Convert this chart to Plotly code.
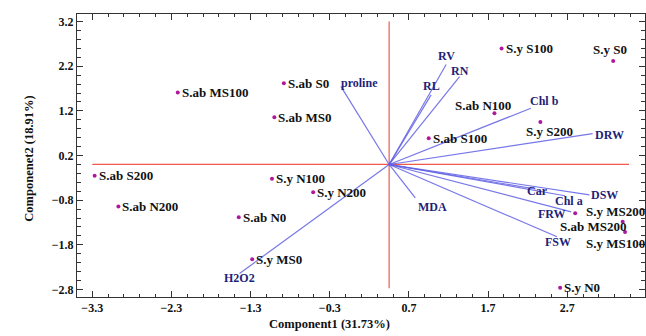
import plotly.graph_objects as go

# ---- data: sample scores (component 1, component 2) ----
sample_names = ["S.ab S0", "S.ab MS100", "S.ab MS0", "S.ab S200", "S.y N100", "S.y N200",
                "S.ab N200", "S.ab N0", "S.y MS0", "S.y S100", "S.y S0", "S.ab N100",
                "S.y S200", "S.ab S100", "S.y MS200", "S.ab MS200", "S.y MS100", "S.y N0"]
sample_pc1 = [-0.88, -2.22, -1.00, -3.27, -1.03, -0.51, -2.97, -1.45, -1.28, 1.87, 3.28, 1.78,
              2.36, 0.95, 2.80, 3.40, 3.43, 2.61]
sample_pc2 = [1.82, 1.61, 1.06, -0.25, -0.32, -0.62, -0.94, -1.18, -2.12, 2.60, 2.32, 1.15,
              0.95, 0.59, -1.09, -1.28, -1.51, -2.76]

# ---- data: variable loadings (end points of the biplot vectors) ----
var_names = ["proline", "RL", "RV", "RN", "Chl b", "DRW", "Car", "Chl a", "DSW", "FRW", "FSW", "MDA", "H2O2"]
var_pc1 = [-0.16, 0.98, 1.17, 1.34, 2.24, 3.02, 2.30, 2.67, 2.98, 2.75, 2.57, 0.78, -1.44]
var_pc2 = [1.75, 1.56, 2.24, 1.97, 1.26, 0.69, -0.55, -0.70, -0.68, -1.06, -1.62, -0.75, -2.44]
origin = (0.45, 0.0)

# reference cross lines
hline_x = [-3.3, 3.48]
vline_y = [-2.77, 3.2]

# tick labels
x_ticks = [-3.3, -2.3, -1.3, -0.3, 0.7, 1.7, 2.7]
y_ticks = [-2.8, -1.8, -0.8, 0.2, 1.2, 2.2, 3.2]

SERIF = "Liberation Serif"
RED = "#ef5a4a"
VEC = "rgba(95,95,228,0.85)"
NAVY = "#1f1f78"
DOT = "#b0189c"

fig = go.Figure()

# cross lines
fig.add_trace(go.Scatter(x=hline_x, y=[origin[1]] * 2, mode="lines",
                         line=dict(color=RED, width=1.2), hoverinfo="skip", showlegend=False))
fig.add_trace(go.Scatter(x=[origin[0]] * 2, y=vline_y, mode="lines",
                         line=dict(color=RED, width=1.2), hoverinfo="skip", showlegend=False))

# vectors
vx, vy = [], []
for ex, ey in zip(var_pc1, var_pc2):
    vx += [origin[0], ex, None]
    vy += [origin[1], ey, None]
fig.add_trace(go.Scatter(x=vx, y=vy, mode="lines", line=dict(color=VEC, width=1.2),
                         hoverinfo="skip", showlegend=False))

# sample points
fig.add_trace(go.Scatter(x=sample_pc1, y=sample_pc2, mode="markers",
                         marker=dict(color=DOT, size=4), showlegend=False))

# label placement (pixel shifts) — style only
samp_shift = {
    "S.y S0": ("center", -3, 11),
    "S.y S200": ("center", 9, -9),
    "S.ab N100": ("center", -11, 8),
    "S.ab MS200": ("left", -65, -5),
    "S.y MS100": ("left", -41, -12),
    "S.y MS200": ("left", 9, 2),
}
for n, x, y in zip(sample_names, sample_pc1, sample_pc2):
    anc, dx, dy = samp_shift.get(n, ("left", 2, 0))
    fig.add_annotation(x=x, y=y, text=n, showarrow=False, xanchor=anc, yanchor="middle",
                       xshift=dx, yshift=dy,
                       font=dict(family=SERIF, size=13, color="#111", weight="bold"))

var_shift = {
    "proline": ("left", -2, 3),
    "RV": ("center", 0, 8),
    "RN": ("center", 0, 6),
    "RL": ("center", 0, 9),
    "Chl b": ("left", -3, 7),
    "DRW": ("left", 0, -1),
    "Car": ("center", 2, -2),
    "Chl a": ("center", 4, -5),
    "DSW": ("left", 0, 0),
    "FRW": ("center", -19, -2),
    "FSW": ("center", 1, -5),
    "MDA": ("center", 17, -9),
    "H2O2": ("center", 0, -5),
}
for n, x, y in zip(var_names, var_pc1, var_pc2):
    anc, dx, dy = var_shift[n]
    fig.add_annotation(x=x, y=y, text=n, showarrow=False, xanchor=anc, yanchor="middle",
                       xshift=dx, yshift=dy,
                       font=dict(family=SERIF, size=12, color=NAVY, weight="bold"))

# axis titles
fig.add_annotation(x=-0.3, y=0, xref="x", yref="paper", yshift=-27, yanchor="middle",
                   text="Component1 (31.73%)", showarrow=False,
                   font=dict(family=SERIF, size=12.5, color="#111", weight="bold"))
fig.add_annotation(x=0, y=0.13, xref="paper", yref="y", xshift=-57, textangle=-90,
                   text="Componenet2 (18.91%)", showarrow=False,
                   font=dict(family=SERIF, size=12.5, color="#111", weight="bold"))

axis_common = dict(showgrid=False, zeroline=False, showline=True, linecolor="#333",
                   linewidth=1, mirror="ticks", ticks="inside", ticklen=6,
                   tickcolor="#333", tickwidth=1, tickformat=".1f", automargin=False,
                   tickfont=dict(family=SERIF, size=12, color="#111", weight="bold"))
fig.update_xaxes(range=[-3.493, 3.682], tickvals=x_ticks,
                 minor=dict(dtick=0.2, tick0=-3.3, ticks="inside", ticklen=3, tickcolor="#333"),
                 **axis_common)
fig.update_yaxes(range=[-2.968, 3.37], tickvals=y_ticks,
                 minor=dict(dtick=0.2, tick0=0.2, ticks="inside", ticklen=4, tickcolor="#333"),
                 **axis_common)

fig.update_layout(width=646, height=336, margin=dict(l=77, r=1, t=14, b=39),
                  paper_bgcolor="white", plot_bgcolor="white", showlegend=False)

fig.write_html("out.html", config={"displayModeBar": False},
               post_script="document.body.style.margin='0';document.body.style.overflow='hidden';")
